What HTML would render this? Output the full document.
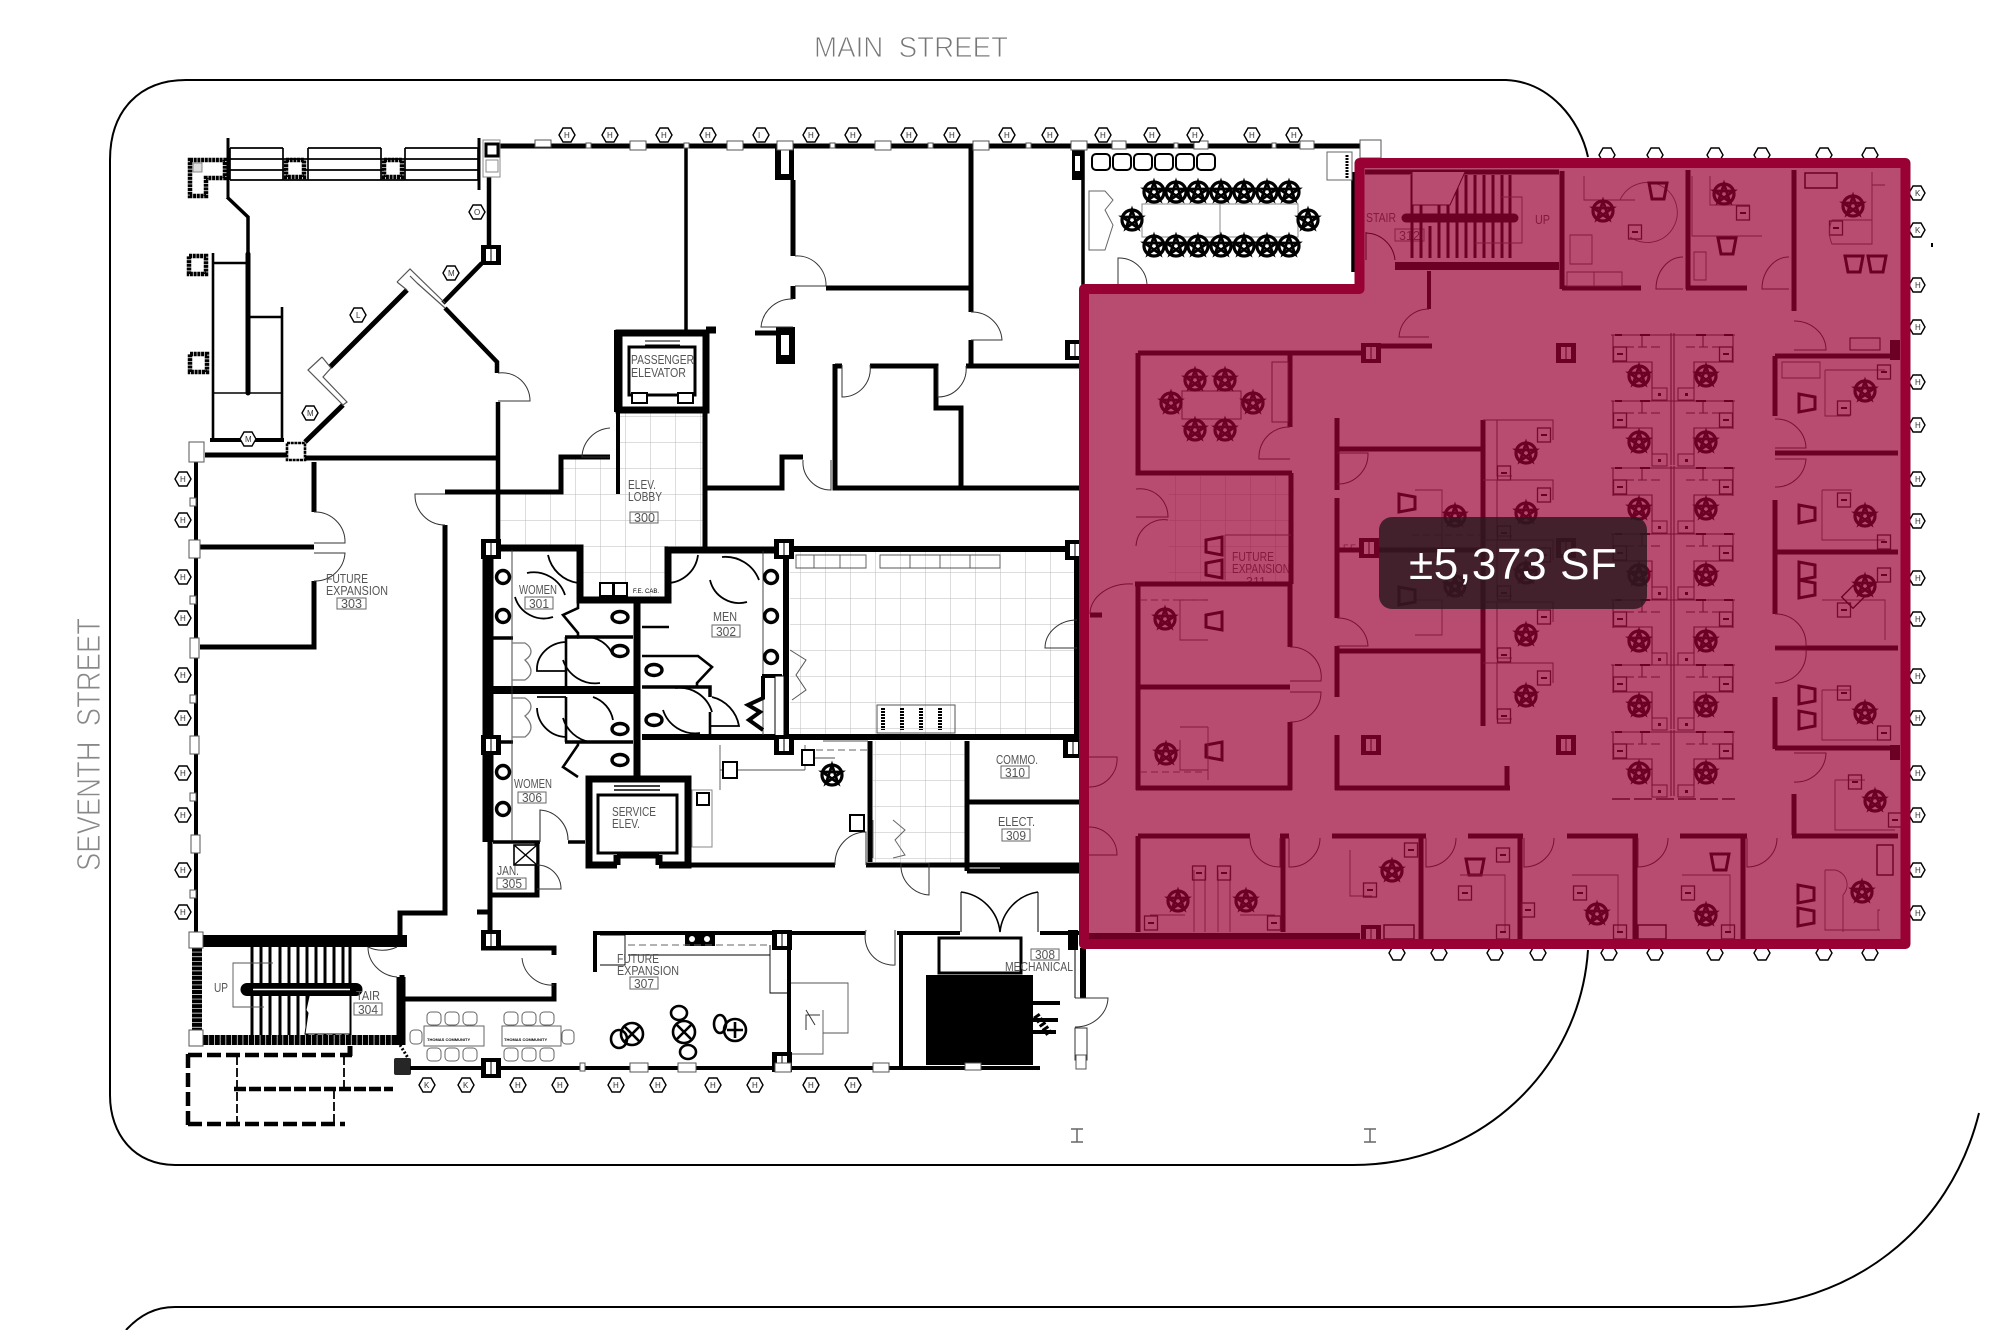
<!DOCTYPE html>
<html><head><meta charset="utf-8"><title>Floor plan</title>
<style>
html,body{margin:0;padding:0;background:#fff;width:2000px;height:1330px;overflow:hidden}
svg{display:block}
text{font-family:"Liberation Sans",sans-serif}
.w{fill:none;stroke:#000;stroke-width:5;stroke-linejoin:miter}
.w3{fill:none;stroke:#000;stroke-width:3}
.t{fill:none;stroke:#555;stroke-width:.9}
.d{fill:none;stroke:#333;stroke-width:1}
.a{fill:none;stroke:#000;stroke-width:1.8}
.dash{fill:none;stroke:#666;stroke-width:1;stroke-dasharray:7 4}
.l{fill:#555;font-size:13px}
.bx{fill:none;stroke:#666;stroke-width:1}
.hx{fill:#333;font-size:8px}
.st{stroke:#fff;stroke-width:.9px;paint-order:normal}
</style></head><body>
<svg xmlns="http://www.w3.org/2000/svg" width="2000" height="1330" viewBox="0 0 2000 1330">
<defs>
<pattern id="tl" width="25" height="26" patternUnits="userSpaceOnUse"><path d="M0 0H25M0 0V26" stroke="#bbb" stroke-width="1" fill="none"/></pattern>
<polygon id="h" points="-8,0 -4,-7 4,-7 8,0 4,7 -4,7" fill="#fff" stroke="#000" stroke-width="1.4"/>
<g id="c"><circle r="10" fill="none" stroke="#000" stroke-width="3.2"/><path d="M0,-10 5.9,8 -9.5,-3 9.5,-3 -5.9,8Z" fill="none" stroke="#000" stroke-width="2.8"/></g>
<path id="g" d="M-9,-8H9L6,8H-6Z" fill="none" stroke="#000" stroke-width="3"/>
<g id="m"><rect x="-6.5" y="-7" width="13" height="14" fill="none" stroke="#222" stroke-width="1.3"/><rect x="-3" y="-1" width="6" height="2" fill="#000"/></g>
<g id="p"><rect x="-10" y="-10" width="20" height="20" fill="#000"/><rect x="-5" y="-6" width="10" height="12" fill="#fff"/><path d="M0-6V6" stroke="#000"/></g>
<g id="wk">
<path d="M1611 0H1735M1613 0V28M1733 0V28M1642 0V12M1703 0V12M1613 27H1652V53M1694 53V27H1733M1671 -2V64M1674 -2V64" fill="none" stroke="#333" stroke-width="1.1"/>
<path d="M1625 12H1660M1686 12H1722" fill="none" stroke="#333" stroke-width="1" stroke-dasharray="9 4"/>
<path d="M1615 0H1622M1640 0H1650M1696 0H1706M1724 0H1733" stroke="#000" stroke-width="2"/>
<use href="#m" x="1620" y="19"/><use href="#m" x="1726" y="19"/><use href="#c" x="1639" y="41"/><use href="#c" x="1706" y="41"/>
<rect x="1652" y="53" width="15" height="12" fill="none" stroke="#333"/><rect x="1678" y="53" width="16" height="12" fill="none" stroke="#333"/><rect x="1658" y="58" width="3" height="3"/><rect x="1685" y="58" width="3" height="3"/>
</g>
<g id="wv">
<path d="M1483 0H1553V20M1497 0V56H1512M1497 10V50" fill="none" stroke="#444" stroke-width="1"/>
<use href="#m" x="1544" y="15"/><use href="#c" x="1526" y="33"/><use href="#m" x="1504" y="53"/>
</g>
</defs>

<rect width="2000" height="1330" fill="#fff"/>

<!-- site outlines -->
<path d="M186 80H1506C1550 82 1580 120 1588 157" fill="none" stroke="#000" stroke-width="2"/>
<path d="M186 80C140 80 110 110 110 160V1095C110 1135 135 1165 175 1165H1353C1480 1165 1580 1070 1588 950" fill="none" stroke="#000" stroke-width="2"/>
<path d="M126 1330C140 1315 155 1307 175 1307H1729C1850 1307 1950 1230 1979 1113" fill="none" stroke="#000" stroke-width="2"/>

<text class="st" x="814" y="57" font-size="29" fill="#777" textLength="194" lengthAdjust="spacingAndGlyphs">MAIN&#160;&#160;STREET</text>
<text class="st" transform="translate(100 871) rotate(-90)" font-size="33" fill="#888" textLength="253" lengthAdjust="spacingAndGlyphs">SEVENTH&#160;&#160;STREET</text>

<!-- tile floors -->
<rect x="790" y="552" width="285" height="182" fill="url(#tl)"/>
<path d="M500 490H561V457H618V412H703V546H668V600H580V546H500Z" fill="url(#tl)"/>
<rect x="873" y="741" width="92" height="121" fill="url(#tl)"/>
<rect x="1169" y="476" width="122" height="106" fill="url(#tl)"/>

<!-- entry steps & NW court -->
<path d="M230 148H283M308 148H381M405 148H478M230 159H478M230 170H478M230 180H478M230 148V180M283 148V180M308 148V180M381 148V180M405 148V180M478 148V180" fill="none" stroke="#000" stroke-width="1.7"/>
<path d="M228 138V197M479 138V190" fill="none" stroke="#000" stroke-width="3"/>
<g fill="#fff" stroke="#000" stroke-width="4.5" stroke-dasharray="3 .7">
<path d="M190 160H225V178H206V196H190Z"/>
<rect x="286" y="160" width="18" height="17"/><rect x="384" y="160" width="18" height="17"/>
<rect x="189" y="256" width="17" height="18"/><rect x="190" y="354" width="17" height="18"/>
</g>
<rect x="193" y="163" width="9" height="9" fill="#ddd" stroke="#888"/>
<path class="w" style="stroke-width:3.5" d="M227 197L248 217V254"/>
<path d="M248 254V393" fill="none" stroke="#000" stroke-width="5" stroke-linecap="round"/>
<path d="M213 253V441M213 263H246M282 307V441M250 317H282" fill="none" stroke="#000" stroke-width="2.6"/>
<path d="M214 393H282" stroke="#000" stroke-width="1.5"/>
<path d="M210 440H284" stroke="#000" stroke-width="4"/>
<path d="M205 455H287" stroke="#000" stroke-width="5"/>

<!-- main walls -->
<path class="w" d="M491 146H1366V158"/>
<path class="w" style="stroke-width:4.5" d="M489 177V247M482 263L443 303M445 308L497 362V373M498 402V546"/>
<path class="w" d="M407 290L330 367M343 405L305 442M305 458H497"/>
<path d="M397 282L410 269 445 303M397 282L407 290M417 283L445 308M417 283L410 276M322 357L308 370 343 405 347 402 323 377 331 368 322 357" fill="none" stroke="#555" stroke-width="1.2"/>
<path class="w" style="stroke-width:4" d="M196 451V932"/>
<path class="w" d="M314 462V512M314 581V647H200M200 547H314"/>
<path class="w" d="M445 525V913H400V940"/>
<path class="w" d="M445 492H561V457H610"/>
<path class="w" d="M616 330V412M618 412V494" style="stroke-width:4"/>
<path class="w" style="stroke-width:7" d="M619 333H706V410H619ZM706 330H716"/>
<path class="w" d="M705 410V549M705 488H782V457H803M835 364V488H1085M835 366H842M870 366H936V408H961V486M966 366H1085"/>
<path class="w" style="stroke-width:3.5" d="M686 147V330"/>
<path class="w" d="M793 180V256M793 286V299M826 288H970M971 147V312M971 340V364M755 333H793"/>
<rect x="775" y="147" width="19" height="33"/><rect x="776" y="327" width="19" height="37"/><rect x="781" y="150" width="8" height="24" fill="#fff"/><rect x="781" y="335" width="8" height="20" fill="#fff"/>
<!-- restrooms -->
<path class="w" style="stroke-width:7" d="M493 548H580V600H668V550H784"/>
<path class="w" style="stroke-width:6" d="M784 549H1077"/>
<path d="M488 545V842" stroke="#000" stroke-width="11"/>
<path class="w" d="M490 842V948M477 912H490"/>
<path d="M637 600V778" stroke="#000" stroke-width="7"/>
<path d="M492 690H637" stroke="#000" stroke-width="8"/>
<path d="M642 737H1080M786 549V737M1077 549V737" fill="none" stroke="#000" stroke-width="6"/>
<path class="w" style="stroke-width:3.5" d="M565 637H633M565 742H633M493 638H513M493 742H513M493 842H540M568 842H585M642 687H710V697"/>
<path class="w" style="stroke-width:2.6" d="M566 637V690M566 697V742M578 600V608L563 615 578 633V637M578 742V745L563 767 578 777M642 627H669M642 656H698L712 667 697 683V687M710 712V737"/>
<path d="M512 550V840M763 551V735" class="t" style="stroke:#333"/>
<path class="w" style="stroke-width:4" d="M762 676H782M763 676V698L748 705 760 712 749 720 763 730"/>
<rect x="775" y="676" width="9" height="60" fill="#fff" stroke="#000"/>
<path class="a" d="M548 555A36 36 0 0 0 578 583M527 573A33 33 0 0 1 565 595M515 597A30 30 0 0 0 553 617M665 583A32 32 0 0 0 698 555M722 557A36 36 0 0 1 759 580M710 580A30 30 0 0 0 747 602"/>
<path class="a" d="M565 671H537C536 655 550 642 567 642M563 660A34 34 0 0 0 600 683M577 638A30 30 0 0 1 612 653"/>
<path class="a" d="M537 708A30 30 0 0 0 565 737M563 718A34 34 0 0 0 590 742M593 697A30 30 0 0 1 613 720M675 688A34 34 0 0 1 712 712M663 710A34 34 0 0 0 700 733M712 697A36 36 0 0 1 739 726H710M537 697H566"/>
<path d="M512 643H525C533 648 533 655 525 660 533 668 533 675 525 680H512M512 698H525C533 703 533 710 525 716 533 724 533 731 525 737H512" fill="none" stroke="#777" stroke-width="1.3"/>
<path d="M540 842V810A30 30 0 0 1 568 840" fill="none" stroke="#333" stroke-width="1.1"/>
<!-- service elevator -->
<path class="w" style="stroke-width:7" d="M617 865H589V779H688V865H659M617 855H659M617 855V865M659 855V865"/>
<rect x="598" y="795" width="79" height="58" fill="none" stroke="#000" stroke-width="3"/>
<path d="M614 786H660M614 790H660" stroke="#000" stroke-width="1.5"/>
<rect x="692" y="790" width="20" height="57" fill="none" stroke="#888"/>
<rect x="697" y="793" width="12" height="12" fill="#fff" stroke="#000" stroke-width="2"/>
<path class="w" d="M691 865H835M866 865H1080M870 741V862M967 741V871M967 802H1080M967 871H1080"/>
<!-- JAN -->
<path class="w" d="M491 895H537V841"/>
<rect x="514" y="845" width="23" height="20" fill="#fff" stroke="#000" stroke-width="1.6"/><path d="M514 845L537 865M537 845L514 865" stroke="#000" stroke-width="1.4"/>
<path class="w" d="M481 948H554V955M405 999H554V983M402 975V1035"/>
<!-- stair 304 -->
<path d="M203 941H407" stroke="#000" stroke-width="12"/>
<path d="M197 943V1035" stroke="#000" stroke-width="10" stroke-dasharray="4 .7"/>
<path d="M192 1040H400" stroke="#000" stroke-width="10" stroke-dasharray="5 .7"/>
<path d="M401 977V1045" stroke="#000" stroke-width="9"/>
<path d="M252 947V1035M261 947V1035M270 947V1035M280 947V1035M289 947V1035M298 947V1035M307 947V1035M316 947V1035M325 947V1035M334 947V1035M343 947V1035M350 947V1035" stroke="#000" stroke-width="3"/>
<path d="M310 992L306 1010 308 1013 305 1034H350V992Z" fill="#fff" stroke="#000"/>
<path d="M247 989.5H356" stroke="#000" stroke-width="13" stroke-linecap="round"/>
<path d="M253 989.5H350" stroke="#fff" stroke-width="1.6"/>
<path d="M273 963H233V1007H264" class="t"/>
<path class="w" style="stroke-width:4" d="M410 1068H1040M789 936V1068M595 971V933H865M897 933H960M1040 933H1079M901 933V1068"/>
<rect x="926" y="975" width="107" height="90"/>
<rect x="939" y="938" width="82" height="35" fill="#fff" stroke="#000" stroke-width="3"/>
<path d="M1000 870H1079" stroke="#000" stroke-width="6"/>
<rect x="1080" y="948" width="6" height="50"/>
<path d="M1075 948V998" stroke="#000"/>
<rect x="1075" y="1028" width="12" height="32" fill="#fff" stroke="#333"/>
<rect x="1068" y="930" width="10" height="20"/>
<path d="M1033 1003H1060M1033 1020H1058M1033 1032H1056" stroke="#000" stroke-width="4"/>
<path d="M1036 1015L1050 1035" stroke="#000" stroke-width="7" stroke-dasharray="3 2"/>

<!-- dashed future stoop -->
<path d="M188 1055H352M188 1124H345M188 1054V1125" fill="none" stroke="#000" stroke-width="4.5" stroke-dasharray="14 5"/>
<path d="M237 1056V1124M344 1056V1089M334 1090V1124" fill="none" stroke="#000" stroke-width="1.8" stroke-dasharray="9 3"/>
<path d="M234 1089H393" stroke="#000" stroke-width="4.5" stroke-dasharray="12 3"/>
<path d="M350 1046V1056" stroke="#000" stroke-width="5"/>
<rect x="394" y="1058" width="17" height="17" fill="#000" opacity=".85" rx="2"/>
<path d="M400 1045L408 1058" stroke="#000" stroke-width="3" stroke-dasharray="2 2"/>

<!-- doors -->
<g class="d">
<path class="d" d="M498 373A28 28 0 0 1 530 401H498"/>
<path class="d" d="M795 256A29 29 0 0 1 826 286H795"/>
<path class="d" d="M793 299A31 31 0 0 0 761 327H793"/>
<path class="d" d="M971 312A30 30 0 0 1 1002 340H971"/>
<path class="d" d="M842 365V397A28 28 0 0 0 870 365"/>
<path class="d" d="M938 366V397A28 28 0 0 0 966 366"/>
<path class="d" d="M610 428A30 30 0 0 0 582 457H610"/>
<path class="d" d="M445 525A30 30 0 0 1 415 494H445"/>
<path class="d" d="M314 512A30 30 0 0 1 345 543H314M314 581A30 30 0 0 0 345 553H314"/>
<path class="d" d="M803 460A28 28 0 0 0 831 490H831V460"/>
<path class="d" d="M1118 284V258A28 28 0 0 1 1147 284"/>
<path class="d" d="M537 865A24 24 0 0 1 561 889H537"/>
<path class="d" d="M835 865A31 32 0 0 1 866 832V865"/>
<path class="d" d="M901 863H929V895A30 30 0 0 1 901 863"/>
<path class="d" d="M397 947A32 30 0 0 1 368 947M368 947A32 30 0 0 0 397 977"/>
<path class="d" d="M522 958A30 30 0 0 0 554 985"/>
<path class="d" d="M866 930A28 28 0 0 0 895 965V930"/>
<path d="M961 892V932M1038 892V932" stroke="#000" stroke-width="1"/>
<path d="M961 892A45 45 0 0 1 1000 932A45 45 0 0 1 1038 892" fill="none" stroke="#000" stroke-width="1.6"/>
<path class="d" d="M1075 998H1108A33 30 0 0 1 1075 1027"/>
<path class="d" d="M1077 620A32 28 0 0 0 1045 648H1077"/>
</g>

<!-- fixtures -->
<g fill="#fff" stroke="#000" stroke-width="3.4">
<circle cx="503" cy="577" r="6.5"/><circle cx="503" cy="616" r="6.5"/><circle cx="503" cy="772" r="6.5"/><circle cx="503" cy="809" r="6.5"/>
<circle cx="771" cy="577" r="6.5"/><circle cx="771" cy="616" r="6.5"/><circle cx="771" cy="657" r="6.5"/>
<ellipse cx="620" cy="617" rx="8" ry="5.5"/><ellipse cx="620" cy="651" rx="8" ry="5.5"/><ellipse cx="654" cy="670" rx="8" ry="5.5"/><ellipse cx="654" cy="720" rx="8" ry="5.5"/><ellipse cx="620" cy="729" rx="8" ry="5.5"/><ellipse cx="620" cy="760" rx="8" ry="5.5"/>
</g>
<rect x="600" y="583" width="13" height="13" fill="#fff" stroke="#000" stroke-width="2"/><rect x="614" y="583" width="13" height="13" fill="#fff" stroke="#000" stroke-width="2"/>
<text x="633" y="593" font-size="6" fill="#000">F.E. CAB.</text>
<!-- passenger elevator -->
<rect x="629" y="347" width="66" height="48" fill="#fff" stroke="#000" stroke-width="3"/>
<rect x="632" y="393" width="15" height="10" fill="#fff" stroke="#000" stroke-width="2"/><rect x="678" y="393" width="15" height="10" fill="#fff" stroke="#000" stroke-width="2"/>
<path d="M645 341H680M645 345H680" stroke="#000"/>
<!-- kitchen -->
<path d="M796 555H866V568H796ZM880 555H1000V568H880ZM814 555V568M840 555V568M910 555V568M940 555V568M970 555V568" class="t"/>
<rect x="877" y="705" width="78" height="28" fill="none" stroke="#555"/>
<path d="M883 708V730M902 708V730M921 708V730M940 708V730" stroke="#000" stroke-width="4" stroke-dasharray="2 1"/>
<path d="M790 650L806 660 796 675 806 690 792 700" fill="none" stroke="#555"/>
<path d="M893 820L905 830 895 840 905 855 893 858M873 820V858" fill="none" stroke="#666"/>
<!-- break room -->
<path d="M720 745V790M720 770H805M805 745V770M805 758H835M823 741H868" class="t"/>
<path class="dash" d="M805 750H868"/>
<use href="#c" x="832" y="775"/>
<rect x="723" y="762" width="14" height="16" fill="#fff" stroke="#000" stroke-width="2"/><rect x="850" y="815" width="14" height="16" fill="#fff" stroke="#000" stroke-width="2"/><rect x="802" y="750" width="12" height="15" fill="#fff" stroke="#000" stroke-width="2"/>
<!-- lower future expansion -->
<path d="M595 937V972" fill="none" stroke="#000" stroke-width="4"/>
<rect x="685" y="932" width="30" height="14"/>
<circle cx="692" cy="939" r="3" fill="#fff"/><circle cx="707" cy="939" r="3" fill="#fff"/>
<path class="dash" d="M628 945H770"/>
<path d="M600 935H625V965H600M770 945V993H790M628 955H770" class="t" style="stroke:#000"/>
<path d="M791 983H848V1033H823V1054H791M823 1033V1010" class="t"/>
<path d="M806 1010L815 1025M806 1030V1015L820 1015" fill="none" stroke="#333"/>
<g fill="none" stroke="#000" stroke-width="2.6">
<circle cx="632" cy="1034" r="11"/><path d="M625 1027L639 1041M639 1027L625 1041"/><ellipse cx="619" cy="1039" rx="8" ry="9"/>
<circle cx="684" cy="1032" r="11"/><path d="M677 1025L691 1039M691 1025L677 1039"/><ellipse cx="679" cy="1013" rx="8" ry="7"/><ellipse cx="688" cy="1052" rx="8" ry="7"/>
<circle cx="735" cy="1030" r="11"/><path d="M727 1030H743M735 1022V1038"/><ellipse cx="720" cy="1024" rx="6" ry="9"/>
</g>
<!-- community tables -->
<g fill="#fff" stroke="#666" stroke-width="1">
<rect x="424" y="1026" width="60" height="20"/><rect x="502" y="1026" width="59" height="20"/>
<rect x="410" y="1030" width="12" height="14" rx="4"/><rect x="562" y="1030" width="12" height="14" rx="4"/>
<rect x="427" y="1012" width="14" height="13" rx="4"/><rect x="445" y="1012" width="14" height="13" rx="4"/><rect x="463" y="1012" width="14" height="13" rx="4"/>
<rect x="504" y="1012" width="14" height="13" rx="4"/><rect x="522" y="1012" width="14" height="13" rx="4"/><rect x="540" y="1012" width="14" height="13" rx="4"/>
<rect x="427" y="1048" width="14" height="13" rx="4"/><rect x="445" y="1048" width="14" height="13" rx="4"/><rect x="463" y="1048" width="14" height="13" rx="4"/>
<rect x="504" y="1048" width="14" height="13" rx="4"/><rect x="522" y="1048" width="14" height="13" rx="4"/><rect x="540" y="1048" width="14" height="13" rx="4"/>
</g>
<text x="427" y="1041" font-size="4" fill="#000" font-weight="bold">THOMAS COMMUNITY</text>
<text x="504" y="1041" font-size="4" fill="#000" font-weight="bold">THOMAS COMMUNITY</text>

<!-- conference room -->
<rect x="1142" y="204" width="156" height="33" fill="#fff" stroke="#888"/>
<path d="M1220 204V237" stroke="#888"/>
<g>
<use href="#c" x="1154" y="192"/><use href="#c" x="1176" y="192"/><use href="#c" x="1198" y="192"/><use href="#c" x="1221" y="192"/><use href="#c" x="1244" y="192"/><use href="#c" x="1267" y="192"/><use href="#c" x="1289" y="192"/>
<use href="#c" x="1154" y="246"/><use href="#c" x="1176" y="246"/><use href="#c" x="1198" y="246"/><use href="#c" x="1221" y="246"/><use href="#c" x="1244" y="246"/><use href="#c" x="1267" y="246"/><use href="#c" x="1289" y="246"/>
<use href="#c" x="1132" y="220"/><use href="#c" x="1308" y="220"/>
</g>
<g fill="#fff" stroke="#000" stroke-width="2">
<rect x="1092" y="154" width="18" height="16" rx="4"/><rect x="1113" y="154" width="18" height="16" rx="4"/><rect x="1134" y="154" width="18" height="16" rx="4"/><rect x="1155" y="154" width="18" height="16" rx="4"/><rect x="1176" y="154" width="18" height="16" rx="4"/><rect x="1197" y="154" width="18" height="16" rx="4"/>
</g>
<path class="w" d="M1083 148V286M1353 172V272" style="stroke-width:3.5"/>
<rect x="1327" y="152" width="25" height="28" fill="#fff" stroke="#666"/>
<path d="M1347 155V178" stroke="#000" stroke-width="3" stroke-dasharray="2 1"/>
<path d="M1089 191H1105L1113 200 1105 210 1113 225 1105 250H1089Z" fill="#fff" stroke="#666"/>
<rect x="1072" y="150" width="10" height="30" fill="#000"/><rect x="1075" y="156" width="5" height="15" fill="#fff"/>

<!-- pillars -->
<use href="#p" x="491" y="255"/><use href="#p" x="491" y="549"/><use href="#p" x="784" y="549"/><use href="#p" x="1075" y="550"/><use href="#p" x="1075" y="350"/><use href="#p" x="491" y="745"/><use href="#p" x="784" y="745"/><use href="#p" x="1073" y="748"/><use href="#p" x="491" y="940"/><use href="#p" x="782" y="940"/><use href="#p" x="782" y="1062"/><use href="#p" x="491" y="1068"/>
<rect x="287" y="443" width="18" height="17" fill="#fff" stroke="#000" stroke-width="2.6" stroke-dasharray="3 .7"/>
<rect x="483" y="140" width="17" height="37" fill="#fff" stroke="#888"/><rect x="486" y="144" width="12" height="12" fill="#fff" stroke="#000" stroke-width="3"/><rect x="486" y="160" width="12" height="12" fill="#fff" stroke="#888"/>

<!-- small column caps -->
<g fill="#fff" stroke="#555">
<rect x="630" y="141" width="16" height="9"/><rect x="727" y="141" width="16" height="9"/><rect x="777" y="141" width="16" height="9"/><rect x="875" y="141" width="16" height="9"/><rect x="973" y="141" width="16" height="9"/><rect x="1071" y="141" width="16" height="9"/><rect x="535" y="140" width="16" height="7"/>
<rect x="1112" y="141" width="14" height="8"/><rect x="1194" y="141" width="14" height="8"/><rect x="1300" y="141" width="14" height="8"/>
<rect x="1360" y="140" width="21" height="18"/>
<rect x="586" y="143" width="5" height="5"/><rect x="684" y="143" width="5" height="5"/><rect x="830" y="143" width="5" height="5"/><rect x="928" y="143" width="5" height="5"/><rect x="1026" y="143" width="5" height="5"/><rect x="1174" y="143" width="4" height="5"/><rect x="1272" y="143" width="4" height="5"/>
<rect x="190" y="498" width="6" height="8"/><rect x="190" y="596" width="6" height="8"/><rect x="190" y="695" width="6" height="8"/><rect x="190" y="793" width="6" height="8"/><rect x="190" y="890" width="6" height="8"/>
<rect x="189" y="442" width="15" height="20"/><rect x="189" y="540" width="11" height="18"/><rect x="190" y="638" width="9" height="20"/><rect x="190" y="736" width="9" height="18"/><rect x="191" y="835" width="9" height="18"/><rect x="189" y="932" width="14" height="16"/><rect x="189" y="1030" width="14" height="16"/>
<rect x="580" y="1063" width="5" height="8"/><rect x="630" y="1063" width="18" height="9"/><rect x="678" y="1063" width="18" height="9"/><rect x="775" y="1063" width="16" height="9"/><rect x="873" y="1063" width="16" height="9"/><rect x="965" y="1063" width="16" height="7"/>
<rect x="1076" y="1055" width="10" height="14"/>
</g>

<!-- hexagons -->
<g>
<use href="#h" x="567" y="135"/><use href="#h" x="610" y="135"/><use href="#h" x="664" y="135"/><use href="#h" x="708" y="135"/><use href="#h" x="761" y="135"/><use href="#h" x="811" y="135"/><use href="#h" x="853" y="135"/><use href="#h" x="909" y="135"/><use href="#h" x="952" y="135"/><use href="#h" x="1007" y="135"/><use href="#h" x="1050" y="135"/><use href="#h" x="1103" y="135"/><use href="#h" x="1152" y="135"/><use href="#h" x="1195" y="135"/><use href="#h" x="1252" y="135"/><use href="#h" x="1294" y="135"/>
<use href="#h" x="1607" y="155"/><use href="#h" x="1655" y="155"/><use href="#h" x="1715" y="155"/><use href="#h" x="1762" y="155"/><use href="#h" x="1824" y="155"/><use href="#h" x="1870" y="155"/>
<use href="#h" x="1917" y="193"/><use href="#h" x="1917" y="230"/><use href="#h" x="1917" y="285"/><use href="#h" x="1917" y="327"/><use href="#h" x="1917" y="382"/><use href="#h" x="1917" y="425"/><use href="#h" x="1917" y="479"/><use href="#h" x="1917" y="521"/><use href="#h" x="1917" y="578"/><use href="#h" x="1917" y="619"/><use href="#h" x="1917" y="676"/><use href="#h" x="1917" y="718"/><use href="#h" x="1917" y="773"/><use href="#h" x="1917" y="815"/><use href="#h" x="1917" y="870"/><use href="#h" x="1917" y="913"/>
<use href="#h" x="1397" y="953"/><use href="#h" x="1439" y="953"/><use href="#h" x="1495" y="953"/><use href="#h" x="1538" y="953"/><use href="#h" x="1609" y="953"/><use href="#h" x="1655" y="953"/><use href="#h" x="1715" y="953"/><use href="#h" x="1762" y="953"/><use href="#h" x="1824" y="953"/><use href="#h" x="1870" y="953"/>
<use href="#h" x="427" y="1085"/><use href="#h" x="466" y="1085"/><use href="#h" x="518" y="1085"/><use href="#h" x="560" y="1085"/><use href="#h" x="616" y="1085"/><use href="#h" x="658" y="1085"/><use href="#h" x="713" y="1085"/><use href="#h" x="755" y="1085"/><use href="#h" x="811" y="1085"/><use href="#h" x="853" y="1085"/>
<use href="#h" x="183" y="479"/><use href="#h" x="183" y="520"/><use href="#h" x="183" y="577"/><use href="#h" x="183" y="618"/><use href="#h" x="183" y="675"/><use href="#h" x="183" y="718"/><use href="#h" x="183" y="773"/><use href="#h" x="183" y="815"/><use href="#h" x="183" y="870"/><use href="#h" x="183" y="912"/>
<use href="#h" x="477" y="212"/><use href="#h" x="451" y="273"/><use href="#h" x="358" y="315"/><use href="#h" x="310" y="413"/><use href="#h" x="248" y="439"/>
</g>
<text class="hx" x="564 607 661 705 758 808 850 906 949 1004 1047 1100 1149 1192 1249 1291" y="138">HHHHIHHHHHHHHHHH</text>
<text class="hx" x="424 463 515 557 613 655 710 752 808 850" y="1088">KKHHHHHHHH</text>
<text class="hx" x="474" y="215">O</text><text class="hx" x="448" y="276">M</text><text class="hx" x="356" y="318">L</text><text class="hx" x="307" y="416">M</text><text class="hx" x="245" y="442">M</text>
<text class="hx" x="180" y="482">H</text><text class="hx" x="180" y="523">H</text><text class="hx" x="180" y="580">H</text><text class="hx" x="180" y="621">H</text><text class="hx" x="180" y="678">H</text><text class="hx" x="180" y="721">H</text><text class="hx" x="180" y="776">H</text><text class="hx" x="180" y="818">H</text><text class="hx" x="180" y="873">H</text><text class="hx" x="180" y="915">H</text>
<text class="hx" x="1915" y="196">K</text><text class="hx" x="1915" y="233">K</text><text class="hx" x="1915" y="288">H</text><text class="hx" x="1915" y="330">H</text><text class="hx" x="1915" y="385">H</text><text class="hx" x="1915" y="428">H</text><text class="hx" x="1915" y="482">H</text><text class="hx" x="1915" y="524">H</text><text class="hx" x="1915" y="581">H</text><text class="hx" x="1915" y="622">H</text><text class="hx" x="1915" y="679">H</text><text class="hx" x="1915" y="721">H</text><text class="hx" x="1915" y="776">H</text><text class="hx" x="1915" y="818">H</text><text class="hx" x="1915" y="873">H</text><text class="hx" x="1915" y="916">H</text>
<rect x="1931" y="243" width="2" height="4" fill="#000"/>

<!-- I beams -->
<path d="M1071 1129H1083M1077 1129V1142M1071 1142H1083M1364 1129H1376M1370 1129V1142M1364 1142H1376" fill="none" stroke="#666" stroke-width="1.5"/>

<!-- labels -->
<g class="l">
<text x="631" y="364" textLength="63" lengthAdjust="spacingAndGlyphs">PASSENGER</text><text x="631" y="377" textLength="55" lengthAdjust="spacingAndGlyphs">ELEVATOR</text>
<text x="628" y="489" textLength="28" lengthAdjust="spacingAndGlyphs">ELEV.</text><text x="628" y="501" textLength="34" lengthAdjust="spacingAndGlyphs">LOBBY</text>
<text x="634" y="522" textLength="21" lengthAdjust="spacingAndGlyphs">300</text>
<text x="326" y="583" textLength="42" lengthAdjust="spacingAndGlyphs">FUTURE</text><text x="326" y="595" textLength="62" lengthAdjust="spacingAndGlyphs">EXPANSION</text>
<text x="341" y="608" textLength="21" lengthAdjust="spacingAndGlyphs">303</text>
<text x="519" y="594" textLength="38" lengthAdjust="spacingAndGlyphs">WOMEN</text><text x="529" y="608" textLength="20" lengthAdjust="spacingAndGlyphs">301</text>
<text x="713" y="621" textLength="24" lengthAdjust="spacingAndGlyphs">MEN</text><text x="716" y="636" textLength="20" lengthAdjust="spacingAndGlyphs">302</text>
<text x="514" y="788" textLength="38" lengthAdjust="spacingAndGlyphs">WOMEN</text><text x="522" y="802" textLength="20" lengthAdjust="spacingAndGlyphs">306</text>
<text x="612" y="816" textLength="44" lengthAdjust="spacingAndGlyphs">SERVICE</text><text x="612" y="828" textLength="28" lengthAdjust="spacingAndGlyphs">ELEV.</text>
<text x="497" y="875" textLength="22" lengthAdjust="spacingAndGlyphs">JAN.</text><text x="502" y="888" textLength="20" lengthAdjust="spacingAndGlyphs">305</text>
<text x="996" y="764" textLength="42" lengthAdjust="spacingAndGlyphs">COMMO.</text><text x="1005" y="777" textLength="20" lengthAdjust="spacingAndGlyphs">310</text>
<text x="998" y="826" textLength="37" lengthAdjust="spacingAndGlyphs">ELECT.</text><text x="1006" y="840" textLength="20" lengthAdjust="spacingAndGlyphs">309</text>
<text x="214" y="992" textLength="14" lengthAdjust="spacingAndGlyphs">UP</text>
<text x="356" y="1000" textLength="24" lengthAdjust="spacingAndGlyphs">TAIR</text><text x="358" y="1014" textLength="20" lengthAdjust="spacingAndGlyphs">304</text>
<text x="617" y="963" textLength="42" lengthAdjust="spacingAndGlyphs">FUTURE</text><text x="617" y="975" textLength="62" lengthAdjust="spacingAndGlyphs">EXPANSION</text><text x="634" y="988" textLength="20" lengthAdjust="spacingAndGlyphs">307</text>
<text x="1035" y="959" textLength="20" lengthAdjust="spacingAndGlyphs">308</text><text x="1005" y="971" textLength="68" lengthAdjust="spacingAndGlyphs">MECHANICAL</text>
<text x="1366" y="222" textLength="30" lengthAdjust="spacingAndGlyphs">STAIR</text><text x="1399" y="240" textLength="21" lengthAdjust="spacingAndGlyphs">312</text>
<text x="1535" y="224" textLength="15" lengthAdjust="spacingAndGlyphs">UP</text>
<text x="1232" y="561" textLength="42" lengthAdjust="spacingAndGlyphs">FUTURE</text><text x="1232" y="573" textLength="58" lengthAdjust="spacingAndGlyphs">EXPANSION</text>
<text x="1246" y="586" textLength="20" lengthAdjust="spacingAndGlyphs">311</text>
<text x="1343" y="551" font-size="9">F.E.</text>
</g>
<g class="bx">
<rect class="bx" x="630" y="512" width="28" height="11"/><rect class="bx" x="337" y="598" width="29" height="11"/><rect class="bx" x="525" y="597" width="28" height="12"/><rect class="bx" x="712" y="625" width="28" height="12"/><rect class="bx" x="518" y="792" width="28" height="11"/><rect class="bx" x="497" y="878" width="29" height="11"/><rect class="bx" x="1001" y="766" width="28" height="12"/><rect class="bx" x="1002" y="829" width="28" height="12"/><rect class="bx" x="354" y="1003" width="28" height="12"/><rect class="bx" x="630" y="977" width="28" height="12"/><rect class="bx" x="1031" y="949" width="28" height="11"/><rect class="bx" x="1395" y="229" width="29" height="12"/>
</g>

<!-- EAST WING (beneath red overlay) -->
<g>
<!-- stair 312 -->
<path d="M1365 172H1559" stroke="#000" stroke-width="5"/>
<path class="w" d="M1562 171V289M1688 170V289M1794 170V311"/>
<path d="M1395 266H1559" stroke="#000" stroke-width="8"/>
<path d="M1412 175V258M1421 175V258M1430 226V258M1439 175V258M1448 175V258M1457 175V258M1466 175V258M1475 175V258M1484 175V258M1493 175V258M1502 175V258M1510 175V258" stroke="#000" stroke-width="3"/>
<path d="M1412 172V205H1450L1465 172" fill="#fff" stroke="#000"/>
<path d="M1406 218H1514" stroke="#000" stroke-width="9" stroke-linecap="round"/>
<path d="M1429 271V309" stroke="#000" stroke-width="4"/>
<path d="M1366 233A30 30 0 0 1 1395 260M1366 232V260" fill="none" stroke="#000"/>
<path d="M1500 197H1522V243H1475" class="t"/>
<!-- upper offices -->
<path class="w" d="M1562 288H1641M1686 288H1747"/>
<path class="d" d="M1683 257A27 32 0 0 0 1656 289H1683"/>
<path class="d" d="M1789 257A27 32 0 0 0 1762 289H1789"/>
<path class="d" d="M1794 321A32 29 0 0 1 1826 350H1794"/>
<path class="t" d="M1584 176V200H1635M1584 200H1618M1620 200A30 30 0 1 1 1630 237M1570 235H1592V264H1570ZM1567 272H1622V286H1567ZM1594 272V286M1692 176V236H1762M1710 176V205H1750M1694 252H1706V280H1694Z"/>
<use href="#c" x="1603" y="211"/><use href="#c" x="1724" y="194"/><use href="#c" x="1853" y="206"/>
<use href="#g" x="1658" y="191"/><use href="#g" x="1727" y="246"/><use href="#g" x="1854" y="264"/><use href="#g" x="1877" y="264"/>
<use href="#m" x="1635" y="232"/><use href="#m" x="1743" y="213"/><use href="#m" x="1836" y="228"/>
<rect x="1805" y="173" width="32" height="15" fill="none" stroke="#000" stroke-width="1.5"/>
<path class="t" d="M1872 172V244H1832A30 30 0 0 1 1832 220H1872M1872 185H1885"/>
<rect x="1850" y="338" width="30" height="12" fill="none" stroke="#000"/>
<!-- walls -->
<path class="w" d="M1138 353V473H1292M1138 353H1361M1371 346H1432M1290 355V427M1291 473V584M1135 584H1292M1138 584V790M1138 687H1290M1136 788H1292M1290 584V647M1290 722V790"/>
<path class="w" d="M1337 418V490M1337 449H1483M1483 420V726M1337 498V618M1337 550H1483M1337 651H1483M1337 646V697M1337 735V790M1335 788H1510M1507 766V790"/>
<path class="w" d="M1775 356H1898M1775 356V416M1775 453H1898M1775 500V614M1775 552H1898M1775 648H1898M1775 697V749M1775 748H1898M1794 794V835"/>
<path class="w" d="M1138 836H1250M1280 836H1289M1332 836H1426M1468 836H1523M1567 836H1638M1680 836H1747M1792 836H1898M1138 836V932M1283 836V932M1421 836V940M1520 836V940M1635 836V940M1743 836V940"/>
<path d="M1089 936H1360" stroke="#000" stroke-width="6"/>
<path class="w" d="M1090 615H1102"/>
<!-- doors -->
<path class="d" d="M1290 427A30 30 0 0 0 1259 459H1290"/>
<path class="d" d="M1136 489A28 28 0 0 1 1168 517H1136M1136 546A28 28 0 0 1 1168 520"/>
<path class="d" d="M1429 309A30 30 0 0 0 1399 337H1429"/>
<path class="d" d="M1337 484A30 30 0 0 0 1368 453H1337"/>
<path class="d" d="M1337 618A30 30 0 0 1 1368 646H1337"/>
<path class="d" d="M1775 419A30 30 0 0 1 1806 448H1775M1775 487A30 30 0 0 0 1806 459H1775"/>
<path class="d" d="M1775 614A30 30 0 0 1 1806 646H1775M1775 683A30 30 0 0 0 1806 650H1775"/>
<path class="d" d="M1794 782A30 30 0 0 0 1826 753H1794"/>
<path class="d" d="M1290 647A30 30 0 0 1 1321 681H1290M1290 722A30 30 0 0 0 1321 692H1290"/>
<path class="d" d="M1133 584A40 30 0 0 0 1090 614"/>
<path class="d" d="M1089 757H1117A28 28 0 0 1 1089 787"/>
<path class="d" d="M1089 855H1117A28 28 0 0 0 1089 827"/>
<path class="d" d="M1250 838A30 29 0 0 0 1280 867V838M1289 838V867A30 29 0 0 0 1320 838M1426 838V867A30 29 0 0 0 1456 838M1524 838V867A30 29 0 0 0 1554 838M1638 838V867A30 29 0 0 0 1668 838M1747 838V867A30 29 0 0 0 1777 838"/>
<!-- meeting -->
<rect x="1182" y="391" width="59" height="28" fill="none" stroke="#444"/>
<rect x="1272" y="362" width="16" height="60" fill="none" stroke="#444"/>
<use href="#c" x="1195" y="380"/><use href="#c" x="1225" y="380"/><use href="#c" x="1171" y="403"/><use href="#c" x="1253" y="403"/><use href="#c" x="1195" y="430"/><use href="#c" x="1225" y="430"/>
<!-- offices left -->
<use href="#c" x="1165" y="619"/><use href="#g" transform="translate(1214 621) rotate(90)"/><use href="#c" x="1166" y="754"/><use href="#g" transform="translate(1214 751) rotate(90)"/>
<path class="t" d="M1180 600H1208M1180 600V640H1208M1180 740V770H1208M1208 727H1180M1208 780V727"/>
<path class="dash" d="M1140 600H1205M1140 772H1205"/>
<!-- mid -->
<use href="#g" transform="translate(1407 503) rotate(-90)"/><use href="#g" transform="translate(1407 596) rotate(-90)"/>
<use href="#c" x="1455" y="516"/><use href="#c" x="1455" y="586"/>
<path class="t" d="M1415 490H1442V560H1415M1415 600H1442V635H1415"/>
<path class="dash" d="M1412 535H1480"/>
<use href="#g" transform="translate(1214 546) rotate(90)"/><use href="#g" transform="translate(1214 569) rotate(90)"/>
<path class="t" d="M1225 535H1291M1225 535V580"/>
<!-- workstations -->
<use href="#wv" y="420"/><use href="#wv" y="480"/><use href="#wv" y="540"/><use href="#wv" y="602"/><use href="#wv" y="663"/>
<use href="#wk" y="335"/><use href="#wk" y="401"/><use href="#wk" y="468"/><use href="#wk" y="534"/><use href="#wk" y="600"/><use href="#wk" y="665"/><use href="#wk" y="732"/>
<path d="M1612 799H1735" stroke="#222" stroke-width="1.6" stroke-dasharray="18 4"/>
<!-- right offices -->
<use href="#c" x="1865" y="391"/><use href="#c" x="1865" y="516"/><use href="#c" x="1865" y="586"/><use href="#c" x="1865" y="713"/><use href="#c" x="1875" y="801"/>
<use href="#g" transform="translate(1807 403) rotate(-90)"/><use href="#g" transform="translate(1807 514) rotate(-90)"/><use href="#g" transform="translate(1807 571) rotate(-90)"/><use href="#g" transform="translate(1807 589) rotate(-90)"/><use href="#g" transform="translate(1807 695) rotate(-90)"/><use href="#g" transform="translate(1807 720) rotate(-90)"/>
<path class="t" d="M1825 370H1885M1825 370V416H1850M1822 490H1852M1822 490V540H1885M1822 600H1885V640M1822 690H1850M1822 690V740H1885M1835 780H1865M1835 780V830H1895"/>
<path d="M1782 362H1820V378H1782Z" class="t"/>
<use href="#m" x="1884" y="372"/><use href="#m" x="1844" y="408"/><use href="#m" x="1844" y="500"/><use href="#m" x="1884" y="542"/><use href="#m" x="1884" y="575"/><use href="#m" x="1844" y="610"/><use href="#m" x="1844" y="693"/><use href="#m" x="1884" y="733"/><use href="#m" x="1855" y="782"/><use href="#m" x="1895" y="820"/>
<g transform="translate(1853 597) rotate(45)"><rect x="-8" y="-8" width="16" height="16" fill="none" stroke="#000" stroke-width="1.4"/></g>
<!-- bottom offices -->
<use href="#c" x="1178" y="901"/><use href="#c" x="1246" y="901"/><use href="#c" x="1392" y="871"/><use href="#c" x="1597" y="914"/><use href="#c" x="1706" y="915"/><use href="#c" x="1862" y="892"/>
<use href="#g" x="1475" y="867"/><use href="#g" x="1720" y="862"/><use href="#g" transform="translate(1806 894) rotate(-90)"/><use href="#g" transform="translate(1806 917) rotate(-90)"/>
<path class="t" d="M1194 870V932M1205 870V932M1218 870V932M1230 870V932M1150 915H1185M1240 915H1275M1350 850V896H1372M1460 875H1505V932M1572 875H1618V932M1682 875H1730V932M1825 870H1835A15 15 0 0 1 1843 895V932M1825 870V930H1880M1880 910H1878V930"/>
<use href="#m" x="1199" y="873"/><use href="#m" x="1224" y="873"/><use href="#m" x="1151" y="923"/><use href="#m" x="1274" y="923"/><use href="#m" x="1370" y="890"/><use href="#m" x="1411" y="850"/><use href="#m" x="1465" y="893"/><use href="#m" x="1503" y="855"/><use href="#m" x="1503" y="932"/><use href="#m" x="1528" y="910"/><use href="#m" x="1580" y="893"/><use href="#m" x="1620" y="932"/><use href="#m" x="1688" y="893"/><use href="#m" x="1728" y="932"/>
<rect x="1384" y="925" width="30" height="14" fill="none" stroke="#000" stroke-width="1.4"/>
<rect x="1638" y="925" width="28" height="14" fill="none" stroke="#000" stroke-width="1.4"/>
<rect x="1877" y="845" width="16" height="30" fill="none" stroke="#000" stroke-width="1.4"/>
<use href="#p" x="1371" y="353"/><use href="#p" x="1566" y="353"/><use href="#p" x="1369" y="548"/><use href="#p" x="1566" y="548"/><use href="#p" x="1371" y="745"/><use href="#p" x="1566" y="745"/><use href="#p" x="1371" y="935"/>
<rect x="1890" y="340" width="10" height="20"/><rect x="1890" y="745" width="10" height="15"/>
</g>

<!-- red overlay -->
<path d="M1359.5 163H1905.5V944H1084V289H1359.5Z" fill="rgba(153,0,51,.7)" stroke="#990033" stroke-width="10" stroke-linejoin="round"/>

<!-- area label -->
<rect x="1379" y="517" width="268" height="92" rx="13" fill="rgba(40,25,30,.82)"/>
<text x="1409" y="579" font-size="44" fill="#fff" textLength="208" lengthAdjust="spacing">±5,373 SF</text>
</svg>
</body></html>
